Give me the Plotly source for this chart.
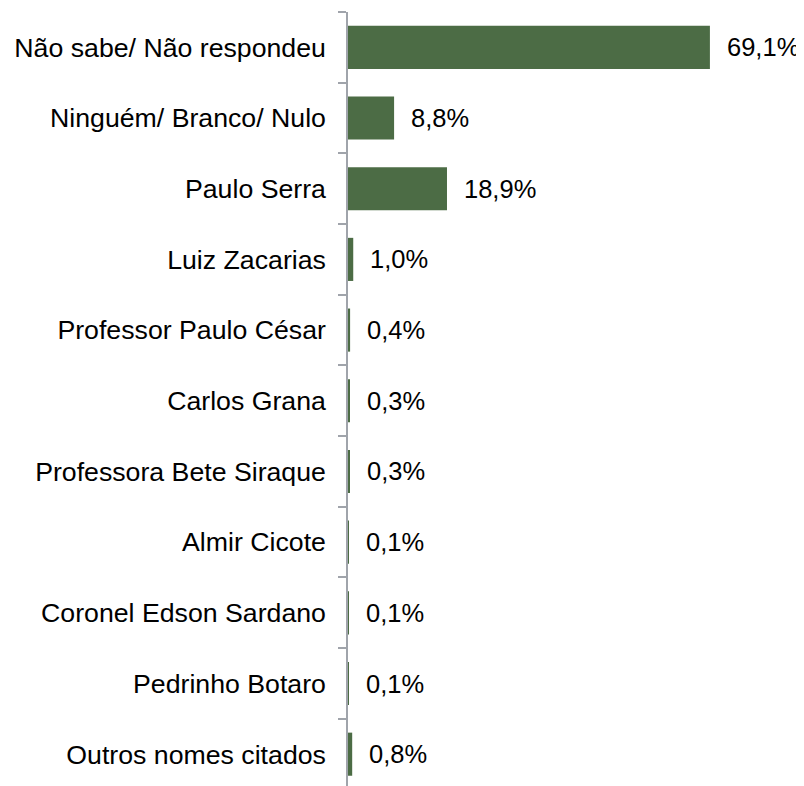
import plotly.graph_objects as go

categories = [
    "Não sabe/ Não respondeu",
    "Ninguém/ Branco/ Nulo",
    "Paulo Serra",
    "Luiz Zacarias",
    "Professor Paulo César",
    "Carlos Grana",
    "Professora Bete Siraque",
    "Almir Cicote",
    "Coronel Edson Sardano",
    "Pedrinho Botaro",
    "Outros nomes citados",
]
values = [69.1, 8.8, 18.9, 1.0, 0.4, 0.3, 0.3, 0.1, 0.1, 0.1, 0.8]
labels = ["69,1%", "8,8%", "18,9%", "1,0%", "0,4%", "0,3%", "0,3%", "0,1%", "0,1%", "0,1%", "0,8%"]

FONT = "Liberation Sans, Arial, sans-serif"

fig = go.Figure()
fig.add_trace(go.Bar(
    x=values,
    y=categories,
    orientation="h",
    marker=dict(color="#4c6c45", line=dict(width=0)),
    width=0.61,
    hoverinfo="skip",
))

for v, c, t in zip(values, categories, labels):
    fig.add_annotation(
        x=v, y=c, text=t, showarrow=False,
        xanchor="left", yanchor="middle", xshift=15,
        font=dict(family=FONT, size=25.5, color="#000000"),
    )

fig.update_layout(
    width=796,
    height=778,
    margin=dict(l=340, r=37, t=4, b=0),
    paper_bgcolor="white",
    plot_bgcolor="white",
    showlegend=False,
    font=dict(family=FONT, size=26.7, color="#000000"),
    xaxis=dict(visible=False, range=[0, 80], fixedrange=True),
    yaxis=dict(
        categoryorder="array",
        categoryarray=categories,
        range=[10.45, -0.5],
        showline=True,
        linecolor="#a0a4ab",
        linewidth=1.5,
        ticks="outside",
        tickson="boundaries",
        ticklen=8,
        tickcolor="#a0a4ab",
        tickwidth=1.5,
        showgrid=False,
        zeroline=False,
        ticklabelstandoff=15,
        tickfont=dict(family=FONT, size=26.7, color="#000000"),
    ),
)

fig.write_html("out.html")
